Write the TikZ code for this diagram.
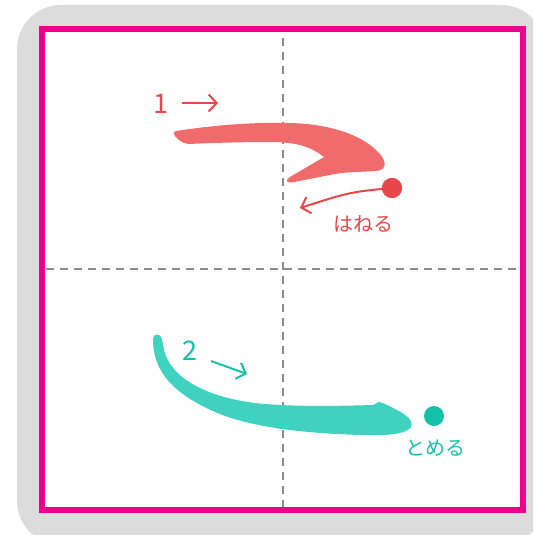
\documentclass[tikz,border=0pt]{standalone}
\usepackage{fontspec}
\setmainfont{Noto Sans CJK JP}
\usetikzlibrary{arrows.meta}
\definecolor{bggray}{HTML}{DCDCDC}
\definecolor{framemag}{HTML}{EC008C}
\definecolor{guide}{HTML}{8C8C8C}
\definecolor{redstroke}{HTML}{F06B6B}
\definecolor{redmark}{HTML}{E8474A}
\definecolor{tealstroke}{HTML}{40D2C0}
\definecolor{tealmark}{HTML}{14C2AA}
\tikzset{
  guideline/.style={guide, line width=1.2pt, dash pattern=on 8pt off 6pt},
  dirarrow/.style={line width=2pt, -{Straight Barb[length=8pt,width=17pt,line width=2pt]}},
  dotmark/.style={circle, fill, inner sep=0pt, minimum size=20pt},
  numlabel/.style={font=\fontsize{27}{27}\selectfont, inner sep=0pt},
  kanalabel/.style={font=\fontsize{20}{20}\selectfont, inner sep=0pt}
}
\begin{document}
\begin{tikzpicture}[x=1pt,y=-1pt]
\useasboundingbox (0,0) rectangle (533,535);
\begin{scope}
\clip (0,0) rectangle (533,535);
\fill[bggray, rounded corners=44pt] (17,5) rectangle (545,545);
\end{scope}
\fill[white] (42,29) rectangle (523,510);
% guides
\draw[guideline] (283,38) -- (283,508);
\draw[guideline] (46,269) -- (520,269);
% frame
\draw[framemag, line width=5.5pt] (42,29) rectangle (523,510);
% stroke 1
\fill[redstroke] (176,131) .. controls (215,125) and (255,122) .. (290,123)
  .. controls (330,124) and (362,135) .. (378,152)
  .. controls (386,160) and (388,169) .. (377,171)
  .. controls (360,172) and (345,172) .. (335,174)
  -- (294,182) .. controls (286,184) and (285,180) .. (290,177)
  -- (324,157) .. controls (310,146) and (295,142) .. (270,142)
  .. controls (240,142) and (210,143) .. (189,144)
  .. controls (184,144) and (178,140) .. (175,136)
  .. controls (173,133) and (174,131) .. (176,131) -- cycle;
% stroke 2
\fill[tealstroke] (153,339) .. controls (153,365) and (165,390) .. (215,412)
  .. controls (250,427) and (300,433) .. (360,435)
  .. controls (387,436) and (407,434) .. (411,427)
  .. controls (414,420) and (405,414) .. (395,409)
  .. controls (388,405) and (383,403) .. (379,402)
  -- (373,405) .. controls (340,406) and (290,407) .. (255,403)
  .. controls (200,396) and (170,375) .. (164,350)
  -- (162,339) .. controls (161,333) and (153,333) .. (153,339) -- cycle;
% stroke 1 labels
\node[numlabel, text=redmark] (n1) at (161,104) {1};
\coordinate (a1s) at (182,103);
\coordinate (a1e) at (218,103);
\draw[dirarrow, redmark] (a1s) -- (a1e);
\node[dotmark, fill=redmark] (d1) at (392,188) {};
\coordinate (h1) at (300,208);
\draw[dirarrow, redmark] (d1.center) .. controls (350,192) .. (h1);
\node[dotmark, fill=redmark] at (d1) {};
\node[kanalabel, text=redmark] (k1) at (363,224) {はねる};
% stroke 2 labels
\node[numlabel, text=tealmark] (n2) at (190,351) {2};
\coordinate (a2s) at (211,361);
\coordinate (a2e) at (247,374);
\draw[dirarrow, tealmark] (a2s) -- (a2e);
\node[dotmark, fill=tealmark] (d2) at (434,416) {};
\node[kanalabel, text=tealmark] (k2) at (435,448) {とめる};
\end{tikzpicture}
\end{document}
